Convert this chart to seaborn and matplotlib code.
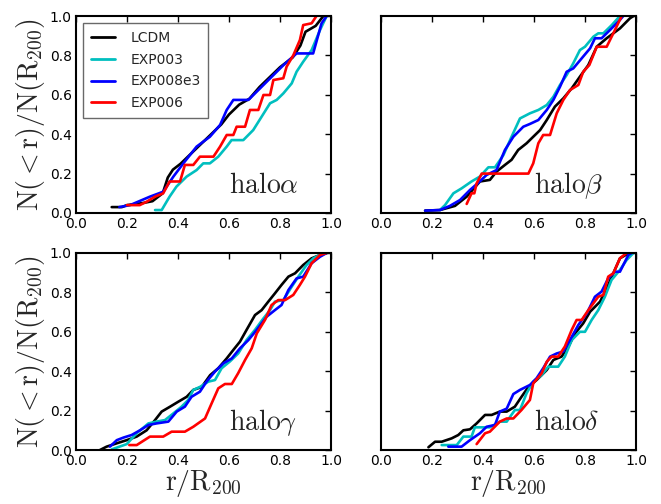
import numpy as np
import pandas as pd
import matplotlib
matplotlib.use("Agg")
import matplotlib.pyplot as plt
import seaborn as sns

models = ["LCDM", "EXP003", "EXP008e3", "EXP006"]
colors = ["#000000", "#00BFBF", "#0000FF", "#FF0000"]
halos = ["alpha", "beta", "gamma", "delta"]
halo_labels = [r"$\rm halo\alpha$", r"$\rm halo\beta$", r"$\rm halo\gamma$", r"$\rm halo\delta$"]
xticks = [0.0, 0.2, 0.4, 0.6, 0.8, 1.0]
yticks = [0.0, 0.2, 0.4, 0.6, 0.8, 1.0]

# ---- halo alpha ----
alpha_LCDM_x = [0.14, 0.18, 0.2, 0.26, 0.3, 0.34, 0.36, 0.38, 0.41, 0.45, 0.49, 0.53, 0.57, 0.6, 0.64, 0.68, 0.72, 0.76, 0.8, 0.85, 0.88, 0.9, 0.94, 0.97]
alpha_LCDM_y = [0.03, 0.03, 0.04, 0.05, 0.06, 0.1, 0.18, 0.22, 0.25, 0.3, 0.35, 0.4, 0.45, 0.5, 0.55, 0.58, 0.64, 0.69, 0.74, 0.79, 0.85, 0.92, 0.95, 1.0]
alpha_EXP003_x = [0.31, 0.336, 0.367, 0.394, 0.434, 0.473, 0.499, 0.525, 0.558, 0.591, 0.61, 0.656, 0.695, 0.728, 0.761, 0.787, 0.813, 0.846, 0.865, 0.891, 0.924, 0.957, 0.983]
alpha_EXP003_y = [0.015, 0.015, 0.083, 0.134, 0.185, 0.218, 0.252, 0.252, 0.286, 0.337, 0.37, 0.37, 0.421, 0.489, 0.557, 0.574, 0.607, 0.658, 0.717, 0.768, 0.827, 0.929, 1.0]
alpha_EXP008e3_x = [0.17, 0.212, 0.29, 0.342, 0.382, 0.421, 0.473, 0.525, 0.565, 0.591, 0.617, 0.676, 0.722, 0.774, 0.813, 0.865, 0.93, 0.963, 0.983]
alpha_EXP008e3_y = [0.03, 0.04, 0.083, 0.108, 0.185, 0.252, 0.337, 0.387, 0.447, 0.523, 0.574, 0.574, 0.633, 0.70, 0.75, 0.81, 0.81, 0.963, 1.0]
alpha_EXP006_x = [0.2, 0.25, 0.278, 0.31, 0.342, 0.367, 0.408, 0.427, 0.46, 0.486, 0.539, 0.565, 0.591, 0.617, 0.63, 0.663, 0.682, 0.715, 0.735, 0.761, 0.774, 0.813, 0.826, 0.852, 0.878, 0.891, 0.924, 0.943]
alpha_EXP006_y = [0.04, 0.04, 0.058, 0.083, 0.10, 0.16, 0.16, 0.244, 0.244, 0.286, 0.286, 0.337, 0.396, 0.396, 0.438, 0.438, 0.523, 0.523, 0.599, 0.599, 0.675, 0.684, 0.743, 0.80, 0.878, 0.954, 0.963, 1.0]

# ---- halo beta ----
beta_LCDM_x = [0.173, 0.231, 0.29, 0.336, 0.388, 0.427, 0.453, 0.486, 0.512, 0.538, 0.571, 0.597, 0.624, 0.65, 0.682, 0.715, 0.748, 0.78, 0.813, 0.846, 0.885, 0.937, 0.976, 0.99]
beta_LCDM_y = [0.012, 0.015, 0.036, 0.083, 0.16, 0.168, 0.21, 0.244, 0.27, 0.32, 0.354, 0.387, 0.421, 0.472, 0.54, 0.582, 0.633, 0.692, 0.751, 0.844, 0.887, 0.937, 0.988, 1.0]
beta_EXP003_x = [0.231, 0.251, 0.284, 0.316, 0.355, 0.388, 0.421, 0.447, 0.48, 0.512, 0.545, 0.584, 0.617, 0.65, 0.676, 0.702, 0.728, 0.754, 0.78, 0.8, 0.833, 0.852, 0.872, 0.905, 0.937]
beta_EXP003_y = [0.015, 0.04, 0.10, 0.125, 0.16, 0.185, 0.232, 0.232, 0.294, 0.387, 0.48, 0.506, 0.523, 0.548, 0.59, 0.65, 0.70, 0.76, 0.827, 0.844, 0.895, 0.912, 0.912, 0.954, 1.0]
beta_EXP008e3_x = [0.173, 0.231, 0.27, 0.31, 0.349, 0.382, 0.414, 0.453, 0.486, 0.519, 0.558, 0.584, 0.617, 0.65, 0.676, 0.702, 0.728, 0.754, 0.787, 0.82, 0.839, 0.865, 0.898, 0.937, 0.95]
beta_EXP008e3_y = [0.012, 0.015, 0.036, 0.066, 0.117, 0.154, 0.193, 0.218, 0.32, 0.387, 0.438, 0.452, 0.472, 0.523, 0.574, 0.641, 0.717, 0.734, 0.785, 0.836, 0.887, 0.887, 0.929, 0.98, 1.0]
beta_EXP006_x = [0.336, 0.355, 0.366, 0.375, 0.395, 0.578, 0.597, 0.617, 0.636, 0.663, 0.689, 0.715, 0.741, 0.774, 0.793, 0.817, 0.846, 0.885, 0.911, 0.944]
beta_EXP006_y = [0.046, 0.10, 0.10, 0.15, 0.20, 0.20, 0.252, 0.354, 0.396, 0.396, 0.506, 0.574, 0.624, 0.65, 0.717, 0.751, 0.844, 0.844, 0.912, 1.0]

# ---- halo gamma ----
gamma_LCDM_x = [0.094, 0.12, 0.16, 0.199, 0.238, 0.277, 0.31, 0.336, 0.369, 0.401, 0.434, 0.46, 0.493, 0.526, 0.558, 0.591, 0.617, 0.643, 0.669, 0.702, 0.728, 0.754, 0.78, 0.806, 0.833, 0.859, 0.891, 0.924, 0.957, 0.983]
gamma_LCDM_y = [0.0, 0.017, 0.034, 0.05, 0.068, 0.10, 0.152, 0.195, 0.22, 0.245, 0.27, 0.305, 0.32, 0.38, 0.415, 0.465, 0.508, 0.55, 0.61, 0.685, 0.71, 0.753, 0.795, 0.838, 0.88, 0.897, 0.939, 0.973, 0.99, 1.0]
gamma_EXP003_x = [0.14, 0.199, 0.238, 0.284, 0.316, 0.349, 0.382, 0.414, 0.44, 0.46, 0.486, 0.519, 0.545, 0.571, 0.604, 0.636, 0.669, 0.702, 0.735, 0.761, 0.78, 0.813, 0.846, 0.872, 0.904, 0.931, 0.963, 0.983]
gamma_EXP003_y = [0.003, 0.03, 0.085, 0.135, 0.144, 0.152, 0.186, 0.22, 0.254, 0.305, 0.32, 0.347, 0.355, 0.415, 0.45, 0.49, 0.558, 0.61, 0.668, 0.71, 0.753, 0.761, 0.829, 0.88, 0.939, 0.973, 0.995, 1.0]
gamma_EXP008e3_x = [0.133, 0.16, 0.186, 0.218, 0.251, 0.284, 0.316, 0.362, 0.395, 0.427, 0.453, 0.486, 0.512, 0.545, 0.578, 0.611, 0.643, 0.676, 0.709, 0.748, 0.78, 0.806, 0.833, 0.865, 0.891, 0.924, 0.957, 0.983]
gamma_EXP008e3_y = [0.017, 0.05, 0.063, 0.076, 0.10, 0.127, 0.135, 0.144, 0.195, 0.22, 0.27, 0.296, 0.347, 0.398, 0.44, 0.465, 0.516, 0.558, 0.61, 0.677, 0.71, 0.736, 0.812, 0.871, 0.88, 0.948, 0.981, 1.0]
gamma_EXP006_x = [0.209, 0.238, 0.29, 0.342, 0.375, 0.427, 0.46, 0.506, 0.532, 0.558, 0.584, 0.611, 0.636, 0.663, 0.689, 0.709, 0.741, 0.767, 0.793, 0.82, 0.852, 0.878, 0.898, 0.924, 0.957, 0.983]
gamma_EXP006_y = [0.025, 0.025, 0.068, 0.068, 0.093, 0.093, 0.118, 0.16, 0.237, 0.313, 0.335, 0.335, 0.39, 0.457, 0.516, 0.592, 0.66, 0.736, 0.761, 0.761, 0.787, 0.838, 0.88, 0.948, 0.99, 1.0]

# ---- halo delta ----
delta_LCDM_x = [0.186, 0.212, 0.238, 0.277, 0.303, 0.323, 0.349, 0.375, 0.408, 0.434, 0.466, 0.493, 0.525, 0.551, 0.578, 0.61, 0.65, 0.676, 0.708, 0.735, 0.761, 0.793, 0.82, 0.859, 0.885, 0.911, 0.937, 0.97, 0.983]
delta_LCDM_y = [0.014, 0.042, 0.042, 0.059, 0.076, 0.10, 0.105, 0.135, 0.178, 0.178, 0.195, 0.195, 0.22, 0.27, 0.32, 0.355, 0.406, 0.457, 0.474, 0.525, 0.592, 0.643, 0.702, 0.753, 0.82, 0.897, 0.973, 0.998, 1.0]
delta_EXP003_x = [0.238, 0.297, 0.323, 0.355, 0.368, 0.427, 0.466, 0.493, 0.525, 0.545, 0.571, 0.597, 0.63, 0.656, 0.695, 0.721, 0.748, 0.78, 0.8, 0.826, 0.852, 0.878, 0.904, 0.937, 0.963, 0.99]
delta_EXP003_y = [0.025, 0.025, 0.068, 0.068, 0.115, 0.115, 0.144, 0.144, 0.203, 0.203, 0.288, 0.347, 0.38, 0.423, 0.423, 0.474, 0.558, 0.60, 0.60, 0.66, 0.71, 0.778, 0.863, 0.914, 0.964, 1.0]
delta_EXP008e3_x = [0.264, 0.316, 0.349, 0.388, 0.414, 0.447, 0.466, 0.493, 0.519, 0.545, 0.584, 0.61, 0.636, 0.663, 0.689, 0.715, 0.741, 0.774, 0.807, 0.839, 0.865, 0.891, 0.917, 0.937, 0.97, 0.983]
delta_EXP008e3_y = [0.017, 0.017, 0.05, 0.085, 0.118, 0.127, 0.195, 0.21, 0.284, 0.305, 0.33, 0.364, 0.415, 0.474, 0.49, 0.5, 0.558, 0.635, 0.693, 0.778, 0.804, 0.871, 0.905, 0.905, 0.99, 1.0]
delta_EXP006_x = [0.375, 0.408, 0.427, 0.466, 0.493, 0.519, 0.551, 0.584, 0.597, 0.63, 0.65, 0.669, 0.695, 0.721, 0.748, 0.767, 0.787, 0.813, 0.852, 0.872, 0.891, 0.911, 0.937, 0.963]
delta_EXP006_y = [0.03, 0.085, 0.093, 0.144, 0.16, 0.16, 0.203, 0.254, 0.338, 0.389, 0.448, 0.474, 0.474, 0.525, 0.61, 0.66, 0.66, 0.71, 0.778, 0.787, 0.88, 0.897, 0.973, 1.0]

series = {
    "alpha": [(alpha_LCDM_x, alpha_LCDM_y), (alpha_EXP003_x, alpha_EXP003_y), (alpha_EXP008e3_x, alpha_EXP008e3_y), (alpha_EXP006_x, alpha_EXP006_y)],
    "beta": [(beta_LCDM_x, beta_LCDM_y), (beta_EXP003_x, beta_EXP003_y), (beta_EXP008e3_x, beta_EXP008e3_y), (beta_EXP006_x, beta_EXP006_y)],
    "gamma": [(gamma_LCDM_x, gamma_LCDM_y), (gamma_EXP003_x, gamma_EXP003_y), (gamma_EXP008e3_x, gamma_EXP008e3_y), (gamma_EXP006_x, gamma_EXP006_y)],
    "delta": [(delta_LCDM_x, delta_LCDM_y), (delta_EXP003_x, delta_EXP003_y), (delta_EXP008e3_x, delta_EXP008e3_y), (delta_EXP006_x, delta_EXP006_y)],
}

rows = []
for h in halos:
    for m, (xs, ys) in zip(models, series[h]):
        for i, (xv, yv) in enumerate(zip(xs, ys)):
            rows.append({"halo": h, "model": m, "i": i, "x": xv, "y": yv})
df = pd.DataFrame(rows)

sns.set_style("white")
plt.rcParams["font.family"] = ["DejaVu Sans"]
plt.rcParams["mathtext.fontset"] = "cm"

fig = plt.figure(figsize=(6.61, 5.04), dpi=100)
W, H = 661.0, 504.0
lefts = [76, 381]
tops = [16, 253]
aw, ah = 255, 197
axes = []
for r in range(2):
    for c in range(2):
        ax = fig.add_axes([lefts[c] / W, 1 - (tops[r] + ah) / H, aw / W, ah / H])
        axes.append(ax)

palette = dict(zip(models, colors))
for k, (ax, h) in enumerate(zip(axes, halos)):
    sub = df[df["halo"] == h]
    sns.lineplot(data=sub, x="x", y="y", hue="model", hue_order=models, palette=palette,
                 units="model", estimator=None, sort=False, linewidth=1.9, ax=ax, legend=False)
    ax.set_xlim(0, 1)
    ax.set_ylim(0, 1)
    ax.set_xticks(xticks)
    ax.set_yticks(yticks)
    ax.set_xticklabels([f"{t:.1f}" for t in xticks], fontsize=10)
    if k % 2 == 0:
        ax.set_yticklabels([f"{t:.1f}" for t in yticks], fontsize=10)
        ax.set_ylabel(r"$\rm N(<r)/N(R_{200})$", fontsize=20, labelpad=2)
    else:
        ax.set_yticklabels([])
        ax.set_ylabel("")
    if k >= 2:
        ax.set_xlabel(r"$\rm r/R_{200}$", fontsize=20, labelpad=0)
    else:
        ax.set_xlabel("")
    ax.tick_params(direction="in", top=True, right=True, length=4, width=1, colors="black", pad=3)
    for s in ax.spines.values():
        s.set_visible(True)
        s.set_color("black")
        s.set_linewidth(1.5)
    ax.text(0.6, 0.14, halo_labels[k], transform=ax.transAxes, fontsize=20, va="center", ha="left")

from matplotlib.lines import Line2D
handles = [Line2D([], [], color=c, lw=2) for c in colors]
leg = axes[0].legend(handles, models, loc="upper left", fontsize=10, frameon=True, fancybox=False,
                     handlelength=1.75, handletextpad=1.1, borderpad=0.55, labelspacing=0.57,
                     borderaxespad=0.5)
leg.get_frame().set_edgecolor("#444444")
leg.get_frame().set_linewidth(1.0)

fig.savefig("out.png", dpi=100)
